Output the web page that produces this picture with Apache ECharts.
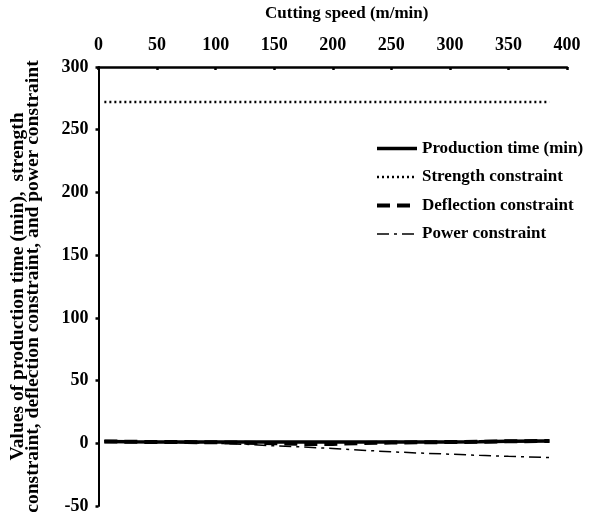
<!DOCTYPE html>
<html><head><meta charset="utf-8">
<script src="https://cdn.jsdelivr.net/npm/echarts@6/dist/echarts.min.js"></script>
<style>html,body{margin:0;padding:0;background:#fff}#c{width:591px;height:524px}</style>
</head><body><div id="c"></div>
<script>
const speeds = [5, 25, 50, 75, 100, 125, 150, 175, 200, 225, 250, 275, 300, 325, 350, 385];
const productionTime = [1.5, 1.2, 1.0, 1.0, 1.0, 1.0, 1.0, 1.0, 1.0, 1.0, 1.0, 1.0, 1.0, 1.2, 1.6, 1.8];
const strengthConstraint = [272, 272, 272, 272, 272, 272, 272, 272, 272, 272, 272, 272, 272, 272, 272, 272];
const deflectionConstraint = [1.5, 1.2, 1.0, 1.0, 0.8, 0.5, 0, -0.5, -0.5, 0.2, 0.6, 0.8, 1.0, 1.2, 1.6, 1.8];
const powerConstraint = [2.0, 1.5, 1.0, 0.5, 0, -0.8, -2.0, -3.0, -4.2, -5.5, -6.8, -7.8, -8.7, -9.6, -10.4, -11.4];
const xTicks = [0, 400, 50];
const yTicks = [-50, 300, 50];

const pairs = a => speeds.map((s, i) => [s, a[i]]);
const font = 'Liberation Serif';
const chart = echarts.init(document.getElementById('c'));
chart.setOption({
  animation: false,
  backgroundColor: '#fff',
  textStyle: { fontFamily: font, color: '#000' },
  grid: { left: 98.5, right: 24, top: 62, bottom: 18 },
  legend: {
    orient: 'vertical', left: 370, top: 135, itemWidth: 40, itemHeight: 14, itemGap: 11.5,
    itemStyle: { opacity: 0 },
    lineStyle: { width: 'inherit' },
    textStyle: { fontFamily: font, fontWeight: 'bold', fontSize: 17, color: '#000' },
    data: ['Production time (min)', 'Strength constraint', 'Deflection constraint', 'Power constraint']
  },
  xAxis: {
    type: 'value', position: 'top', min: xTicks[0], max: xTicks[1], interval: xTicks[2],
    name: 'Cutting speed (m/min)', nameLocation: 'middle', nameGap: 45,
    nameTextStyle: { fontFamily: font, fontWeight: 'bold', fontSize: 17, color: '#000', padding: [0, 0, 0, 28] },
    axisLine: { onZero: false, lineStyle: { color: '#000', width: 2.5 } },
    axisTick: { inside: true, length: 3, lineStyle: { color: '#000', width: 2.5 } },
    axisLabel: { fontFamily: font, fontWeight: 'bold', fontSize: 18, color: '#000', margin: 13 },
    splitLine: { show: false }
  },
  yAxis: {
    type: 'value', min: yTicks[0], max: yTicks[1], interval: yTicks[2],
    name: 'Values of production time (min),  strength\nconstraint, deflection constraint, and power constraint',
    nameLocation: 'middle', nameRotate: 90, nameGap: 58,
    nameTextStyle: { fontFamily: font, fontWeight: 'bold', fontSize: 19.5, color: '#000', lineHeight: 15 },
    axisLine: { show: true, onZero: false, lineStyle: { color: '#000', width: 2 } },
    axisTick: { show: true, length: 3, lineStyle: { color: '#000', width: 2.5 } },
    axisLabel: { fontFamily: font, fontWeight: 'bold', fontSize: 18, color: '#000', margin: 10 },
    splitLine: { show: false }
  },
  series: [
    { name: 'Production time (min)', type: 'line', symbol: 'none', data: pairs(productionTime),
      lineStyle: { color: '#000', width: 3.5, type: 'solid' }, itemStyle: { color: '#000' } },
    { name: 'Strength constraint', type: 'line', symbol: 'none', data: pairs(strengthConstraint),
      lineStyle: { color: '#000', width: 2.5, type: [2, 3] }, itemStyle: { color: '#000' } },
    { name: 'Deflection constraint', type: 'line', symbol: 'none', data: pairs(deflectionConstraint),
      lineStyle: { color: '#000', width: 4, type: [13, 7] }, itemStyle: { color: '#000' } },
    { name: 'Power constraint', type: 'line', symbol: 'none', data: pairs(powerConstraint),
      lineStyle: { color: '#000', width: 1.5, type: [12, 5, 3, 5] }, itemStyle: { color: '#000' } }
  ]
});
</script></body></html>
